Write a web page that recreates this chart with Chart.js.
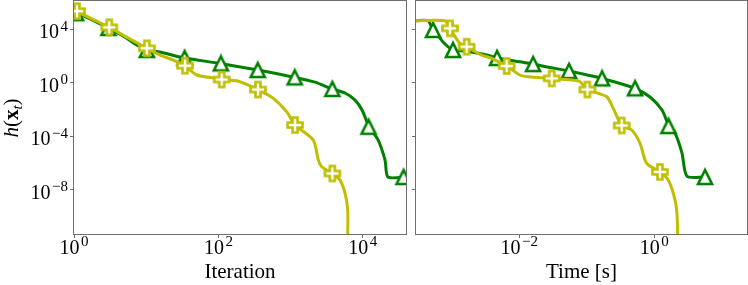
<!DOCTYPE html>
<html>
<head>
<meta charset="utf-8">
<script src="https://cdn.jsdelivr.net/npm/chart.js@4.4.0/dist/chart.umd.min.js"></script>
<style>
  html, body { margin: 0; padding: 0; background: #fff; }
  #wrap { position: relative; width: 748px; height: 285px; overflow: hidden; }
  canvas { position: absolute; top: 0; }
  #iterChart { left: 0; }
  #timeChart { left: 408px; }
</style>
</head>
<body>
<div id="wrap">
  <canvas id="iterChart" width="410" height="285"></canvas>
  <canvas id="timeChart" width="340" height="285"></canvas>
</div>
<script>
document.addEventListener('DOMContentLoaded', function() {

// Left panel: h(x_t) against iteration
const iterGreenX = [1, 1.14, 1.67, 2.96, 5.1, 7.0, 10.2, 15.5, 34, 105, 353, 1150, 2180, 3740, 5670, 7800, 9750, 12200, 16300, 20300, 22300, 39800];
const iterGreenY = [2.8e5, 1.6e5, 6e4, 1.26e4, 2600, 790, 280, 200, 71, 28, 8.9, 2.5, 1.1, 0.34, 0.17, 0.05, 0.009, 5e-4, 5.1e-5, 1.6e-6, 8.7e-8, 8.7e-8];
const iterGreenMarkX = [1.07, 3, 10.2, 34, 108, 350, 1140, 3780, 12000, 36600];
const iterGreenMarkY = [1.6e5, 1.26e4, 280, 71, 28, 8.9, 2.5, 0.34, 5e-4, 8.7e-8];

const iterYellowX = [1, 1.1, 3.08, 6.3, 10.2, 15.5, 23.7, 34.5, 50, 95, 111, 179, 260, 353, 576, 883, 1150, 2060, 2420, 2700, 3780, 4830, 5670, 6180, 6180, 6180];
const iterYellowY = [6.6e5, 2.3e5, 1.4e4, 1600, 380, 118, 50, 18.7, 3.8, 2.1, 1.74, 1.41, 0.67, 0.31, 0.068, 0.0067, 6.8e-4, 5.1e-5, 1.6e-6, 5.1e-7, 1.6e-7, 5.1e-8, 5.2e-9, 2.9e-10, 5.5e-12, 1e-14];
const iterYellowMarkX = [1.1, 3.08, 10.2, 34.5, 111, 353, 1150, 3780];
const iterYellowMarkY = [2.3e5, 1.4e4, 380, 18.7, 1.74, 0.31, 6.8e-4, 1.6e-7];

// Right panel: h(x_t) against wall time
const timeGreenX = [2.95e-4, 4.44e-4, 5.27e-4, 6.04e-4, 7.67e-4, 1.04e-3, 1.57e-3, 3.32e-3, 4.68e-3, 0.0102, 0.016, 0.0285, 0.0545, 0.168, 0.518, 0.863, 1.3, 1.65, 2.03, 2.57, 3.05, 5.64];
const timeGreenY = [4.4e4, 4.4e4, 8.9e3, 4.4e3, 940, 280, 240, 118, 71, 37, 25, 13.8, 7.5, 2.1, 0.38, 0.085, 0.009, 5.7e-4, 1.7e-4, 5.4e-6, 1.0e-7, 8.7e-8];
const timeGreenMarkX = [5.27e-4, 1.04e-3, 4.68e-3, 0.016, 0.0545, 0.168, 0.518, 1.62, 5.64];
const timeGreenMarkY = [8.9e3, 280, 71, 25, 7.5, 2.1, 0.38, 5.7e-4, 8.7e-8];

const timeYellowX = [2.95e-4, 7.9e-4, 9.4e-4, 1.12e-3, 1.32e-3, 1.66e-3, 2.77e-3, 3.9e-3, 6.5e-3, 0.0102, 0.0136, 0.0302, 0.0597, 0.0794, 0.102, 0.197, 0.253, 0.329, 0.462, 0.614, 0.728, 0.815, 1.21, 1.61, 2.03, 2.19, 2.19];
const timeYellowY = [4.4e4, 4.4e4, 1.18e4, 2800, 890, 500, 118, 67, 17.8, 3.8, 2.8, 2.1, 1.6, 1.19, 0.31, 0.089, 0.009, 6.3e-4, 2.9e-4, 2.9e-5, 1.6e-6, 6.9e-7, 2.1e-7, 5.1e-8, 1.6e-9, 5.2e-11, 1e-14];
const timeYellowMarkX = [9.4e-4, 1.66e-3, 6.5e-3, 0.0302, 0.102, 0.329, 1.21];
const timeYellowMarkY = [1.18e4, 500, 17.8, 2.1, 0.31, 6.3e-4, 2.1e-7];

// Tick labels
const iterTicks = [1, 100, 10000];
const timeTicks = [0.01, 1];
const hTicks = [1e4, 1, 1e-4, 1e-8];

const GREEN = '#008000';
const YELLOW = '#bfbf00';
const SERIF = "'Liberation Serif', 'DejaVu Serif', serif";
const AXIS_GRAY = '#6e6e6e';

function pts(xs, ys) {
    return xs.map((x, i) => ({ x: x, y: ys[i] }));
}

// matplotlib-like hollow markers
function triangleMarker() {
    const c = document.createElement('canvas');
    c.width = 20; c.height = 20;
    const g = c.getContext('2d');
    g.beginPath();
    g.moveTo(10, 3); g.lineTo(3, 17); g.lineTo(17, 17); g.closePath();
    g.fillStyle = '#fff'; g.fill();
    g.lineWidth = 2.6; g.strokeStyle = GREEN; g.lineJoin = 'miter';
    g.stroke();
    return c;
}
function plusMarker() {
    const c = document.createElement('canvas');
    c.width = 22; c.height = 22;
    const g = c.getContext('2d');
    const k = 15 / 6, m = 11;
    const p = [[-1, -3], [1, -3], [1, -1], [3, -1], [3, 1], [1, 1], [1, 3], [-1, 3], [-1, 1], [-3, 1], [-3, -1], [-1, -1]];
    g.beginPath();
    p.forEach((q, i) => {
        if (i === 0) g.moveTo(m + q[0] * k, m + q[1] * k);
        else g.lineTo(m + q[0] * k, m + q[1] * k);
    });
    g.closePath();
    g.fillStyle = '#fff'; g.fill();
    g.lineWidth = 2.6; g.strokeStyle = YELLOW; g.lineJoin = 'miter';
    g.stroke();
    return c;
}
const tri = triangleMarker();
const plus = plusMarker();

const framePlugin = {
    id: 'frame',
    afterDatasetsDraw(chart) {
        const { ctx, chartArea: a } = chart;
        ctx.save();
        ctx.strokeStyle = AXIS_GRAY;
        ctx.lineWidth = 1;
        ctx.strokeRect(Math.round(a.left) - 0.5, Math.round(a.top) - 0.5,
            Math.round(a.right - a.left) + 1, Math.round(a.bottom - a.top) + 1);
        ctx.restore();
    }
};

// tick labels like 10^4, drawn at the scale's own tick positions
const powTicksPlugin = {
    id: 'powTicks',
    afterDraw(chart, args, opts) {
        const ctx = chart.ctx;
        ctx.save();
        ctx.fillStyle = '#000';
        ctx.textBaseline = 'alphabetic';
        (opts.axes || []).forEach(id => {
            const s = chart.scales[id];
            s.ticks.forEach(t => {
                const px = s.getPixelForValue(t.value);
                const e = Math.round(Math.log10(t.value));
                const expo = (e < 0 ? '\u2212' : '') + Math.abs(e);
                ctx.font = '20px ' + SERIF;
                const wb = ctx.measureText('10').width;
                ctx.font = '15px ' + SERIF;
                const we = ctx.measureText(expo).width + 1.5;
                let x0, y0;
                if (s.isHorizontal()) {
                    x0 = px - (wb + we) / 2;
                    y0 = s.top + 20;
                } else {
                    x0 = s.right - 6 - (wb + we);
                    y0 = px + 9;
                }
                ctx.font = '20px ' + SERIF;
                ctx.fillText('10', x0, y0);
                ctx.font = '15px ' + SERIF;
                ctx.fillText(expo, x0 + wb + 1.5, y0 - 7.6);
            });
        });
        ctx.restore();
    }
};

// y label h(x_t) with italic h, bold x and subscript t
const yLabelPlugin = {
    id: 'ylabel',
    afterDraw(chart) {
        const ctx = chart.ctx;
        const parts = [
            { t: 'h', f: 'italic 21px ' + SERIF, dy: 0 },
            { t: '(', f: '21px ' + SERIF, dy: 0 },
            { t: 'x', f: 'bold 21px ' + SERIF, dy: 0 },
            { t: 't', f: 'italic 15px ' + SERIF, dy: 4 },
            { t: ')', f: '21px ' + SERIF, dy: 0 }
        ];
        ctx.save();
        let w = 0;
        parts.forEach(p => { ctx.font = p.f; p.w = ctx.measureText(p.t).width; w += p.w; });
        ctx.translate(18, 118);
        ctx.rotate(-Math.PI / 2);
        ctx.fillStyle = '#000';
        ctx.textBaseline = 'alphabetic';
        let x = -w / 2;
        parts.forEach(p => { ctx.font = p.f; ctx.fillText(p.t, x, p.dy); x += p.w; });
        ctx.restore();
    }
};

function logAxis(min, max, ticks, size, extra) {
    return Object.assign({
        type: 'logarithmic',
        min: min,
        max: max,
        afterBuildTicks: s => { s.ticks = ticks.map(v => ({ value: v })); },
        afterFit: s => {
            if (s.isHorizontal()) s.height = size; else s.width = size;
            s.paddingLeft = 0; s.paddingRight = 0; s.paddingTop = 0; s.paddingBottom = 0;
        },
        grid: { drawOnChartArea: false, drawTicks: true, tickLength: 4, color: AXIS_GRAY },
        border: { display: false },
        ticks: { display: false, autoSkip: false }
    }, extra || {});
}

function makeChart(id, xAxis, yAxis, sets, padding, labelAxes, plugins) {
    const ctx = document.getElementById(id).getContext('2d');
    return new Chart(ctx, {
        type: 'line',
        data: {
            datasets: [
                { data: pts(sets[0], sets[1]), borderColor: GREEN, borderWidth: 3, pointRadius: 0, tension: 0.25, order: 4 },
                { data: pts(sets[2], sets[3]), showLine: false, pointStyle: tri, pointRadius: 9, order: 3 },
                { data: pts(sets[4], sets[5]), borderColor: YELLOW, borderWidth: 3, pointRadius: 0, tension: 0.25, order: 2 },
                { data: pts(sets[6], sets[7]), showLine: false, pointStyle: plus, pointRadius: 9, order: 1 }
            ]
        },
        options: {
            responsive: false,
            devicePixelRatio: 1,
            animation: false,
            layout: { padding: padding, autoPadding: false },
            plugins: { legend: { display: false }, tooltip: { enabled: false }, powTicks: { axes: labelAxes } },
            scales: { x: xAxis, y: yAxis }
        },
        plugins: plugins
    });
}

const hMin = 4.7e-12, hMax = 1.32e6;

makeChart('iterChart',
    logAxis(1, 39600, iterTicks, 51, {
        title: { display: true, text: 'Iteration', color: '#000', font: { family: SERIF, size: 21 }, padding: { top: 0, bottom: 0 } }
    }),
    logAxis(hMin, hMax, hTicks, 74),
    [iterGreenX, iterGreenY, iterGreenMarkX, iterGreenMarkY, iterYellowX, iterYellowY, iterYellowMarkX, iterYellowMarkY],
    { left: 0, right: 4, top: 1, bottom: 0 },
    ['x', 'y'],
    [framePlugin, powTicksPlugin, yLabelPlugin]);

makeChart('timeChart',
    logAxis(2.95e-4, 23.6, timeTicks, 51, {
        title: { display: true, text: 'Time [s]', color: '#000', font: { family: SERIF, size: 21 }, padding: { top: 0, bottom: 0 } }
    }),
    logAxis(hMin, hMax, hTicks, 8),
    [timeGreenX, timeGreenY, timeGreenMarkX, timeGreenMarkY, timeYellowX, timeYellowY, timeYellowMarkX, timeYellowMarkY],
    { left: 0, right: 1, top: 1, bottom: 0 },
    ['x'],
    [framePlugin, powTicksPlugin]);

});
</script>
</body>
</html>
